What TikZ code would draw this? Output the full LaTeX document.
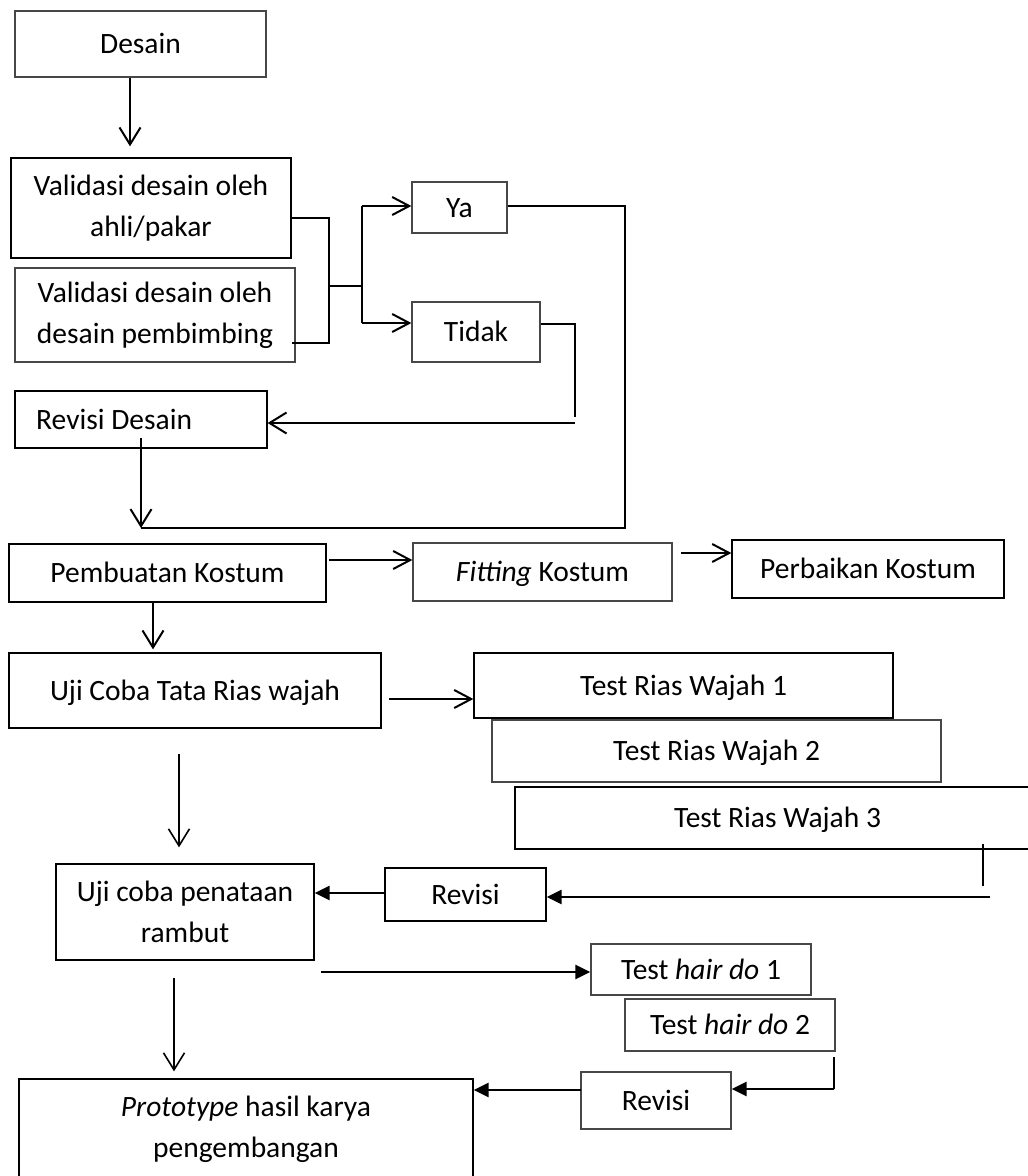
\documentclass[tikz,border=0pt]{standalone}
\usepackage{fontspec}
\setmainfont{Carlito}
\usetikzlibrary{arrows.meta}
\begin{document}
\begin{tikzpicture}[x=1pt,y=-1pt,
  box/.style={draw=black, line width=1.3pt, inner sep=0pt,
    font=\fontsize{29.5}{41}\selectfont, text height=24.9pt, text depth=5.9pt},
  gbox/.style={box, draw=black!72},
  box2/.style={draw=black, line width=1.3pt, inner sep=0pt, align=center,
    font=\fontsize{29.5}{41}\selectfont},
  gbox2/.style={box2, draw=black!72},
  txt/.style={inner sep=0pt, font=\fontsize{29.5}{41}\selectfont, text height=24.9pt, text depth=5.9pt},
  conn/.style={line width=2pt},
  openarr/.style={line width=2pt, -{Straight Barb[length=17pt,width=21pt]}},
  openarrs/.style={line width=2pt, -{Straight Barb[length=17pt,width=18pt]}},
  fillarr/.style={line width=2.8pt, -{Triangle[length=15pt,width=14pt]}},
]
\useasboundingbox (0,0) rectangle (1028,1176);
\fill[white] (0,0) rectangle (1028,1176);
\clip (0,0) rectangle (1028,1176);

% ---- boxes ----
\node[gbox, minimum width=251pt, minimum height=66pt] (desain) at (140.5,44) {Desain};
\node[box2, minimum width=280pt, minimum height=100pt] (v1) at (151,208) {Validasi desain oleh\\ahli/pakar};
\node[gbox2, minimum width=280pt, minimum height=94pt] (v2) at (155,315) {Validasi desain oleh\\desain pembimbing};
\node[gbox, minimum width=95pt, minimum height=51pt] (ya) at (459.5,207.5) {Ya};
\node[gbox, minimum width=128pt, minimum height=60pt] (tidak) at (476,332) {Tidak};
\node[box, minimum width=252pt, minimum height=57pt] (revd) at (141,419.5) {};
\node[txt, anchor=west] (revdt) at (36,420) {Revisi Desain};
\node[box, minimum width=317pt, minimum height=58pt] (pemb) at (167.5,573) {Pembuatan Kostum};
\node[gbox, minimum width=259pt, minimum height=58pt] (fit) at (542.5,572) {\textit{Fitting} Kostum};
\node[box, minimum width=272pt, minimum height=58pt] (perb) at (868,569) {Perbaikan Kostum};
\node[box, minimum width=372pt, minimum height=75pt] (ujic) at (195,690.5) {Uji Coba Tata Rias wajah};
\node[box, minimum width=419pt, minimum height=65pt] (trw1) at (683.5,685.5) {Test Rias Wajah 1};
\node[gbox, minimum width=449pt, minimum height=62pt] (trw2) at (716.5,751) {Test Rias Wajah 2};
\node[box, minimum width=525pt, minimum height=62pt] (trw3) at (777.5,818) {Test Rias Wajah 3};
\node[box, minimum width=161pt, minimum height=53pt] (rev1) at (465.5,894.5) {Revisi};
\node[box2, minimum width=258pt, minimum height=96pt] (ucp) at (185,912) {Uji coba penataan\\rambut};
\node[gbox, minimum width=220pt, minimum height=51pt] (thd1) at (701,969.5) {Test \textit{hair do} 1};
\node[gbox, minimum width=210pt, minimum height=52pt] (thd2) at (730,1025) {Test \textit{hair do} 2};
\node[gbox, minimum width=150pt, minimum height=57pt] (rev2) at (656,1100.5) {Revisi};
\node[box2, minimum width=454pt, minimum height=100pt] (proto) at (246,1129) {\textit{Prototype} hasil karya\\pengembangan};

% ---- connectors: top part ----
\draw[openarr] ([xshift=-10.5pt]desain.south) -- ([xshift=-21pt,yshift=11pt]v1.north);

\coordinate (j1) at (329,218);
\coordinate (j2) at (329,343);
\coordinate (jm) at (329,286);
\coordinate (jb) at (362,286);
\coordinate (jy) at (362,206);
\coordinate (jt) at (362,323);
\draw[conn] ([yshift=-10pt]v1.east) -- (j1) -- (j2) -- ([xshift=-4pt,yshift=-28pt]v2.east);
\draw[conn] (jm) -- (jb);
\draw[conn] (jy) -- (jt);
\draw[openarrs] (jy) -- (ya.west |- jy);
\draw[openarrs] (jt) -- (tidak.west |- jt);

\coordinate (t1) at (575,324);
\coordinate (t2) at (575,417);
\coordinate (t3) at (575,423);
\draw[conn] (tidak.east |- t1) -- (t1) -- (t2);
\draw[openarr] (t3) -- (revd.east |- t3);

\coordinate (y1) at (625,206);
\coordinate (y2) at (625,528);
\coordinate (y3) at (141,528);
\draw[conn] (ya.east |- y1) -- (y1) -- (y2) -- (y3);
\draw[openarr] ([yshift=11pt]revd.south) -- (y3);

% ---- costume row ----
\coordinate (pf) at (329,560);
\draw[openarrs] (pf) -- (fit.west |- pf);
\coordinate (fp) at (681,553);
\draw[openarrs] (fp) -- (perb.west |- fp);
\draw[openarr] ([xshift=-14.5pt]pemb.south) -- ([xshift=-42pt,yshift=3pt]ujic.north);

% ---- make-up row ----
\coordinate (ut) at (389,699);
\draw[openarrs] (ut) -- (trw1.west |- ut);
\coordinate (uc1) at (179,754);
\draw[openarr, line width=1.6pt] (uc1) -- ([xshift=-6pt,yshift=16pt]ucp.north);

\coordinate (r3a) at (983,844);
\coordinate (r3b) at (983,886);
\draw[conn] (r3a) -- (r3b);
\coordinate (r3c) at (990,897);
\draw[fillarr] (r3c) -- (rev1.east |- r3c);
\draw[fillarr] (rev1.west |- 0,893) -- (ucp.east |- 0,893);

% ---- hair row ----
\coordinate (uh) at (321,972);
\draw[fillarr] (uh) -- (thd1.west |- uh);
\coordinate (h2a) at (834,1057);
\coordinate (h2b) at (834,1089);
\draw[conn] (h2a) -- (h2b);
\draw[fillarr] (h2b) -- (rev2.east |- h2b);
\coordinate (rp) at (581,1090);
\draw[fillarr] (rp) -- (proto.east |- rp);
\coordinate (uc2) at (174,978);
\draw[openarr, line width=1.6pt] (uc2) -- ([xshift=-72pt,yshift=7pt]proto.north);
\end{tikzpicture}
\end{document}
